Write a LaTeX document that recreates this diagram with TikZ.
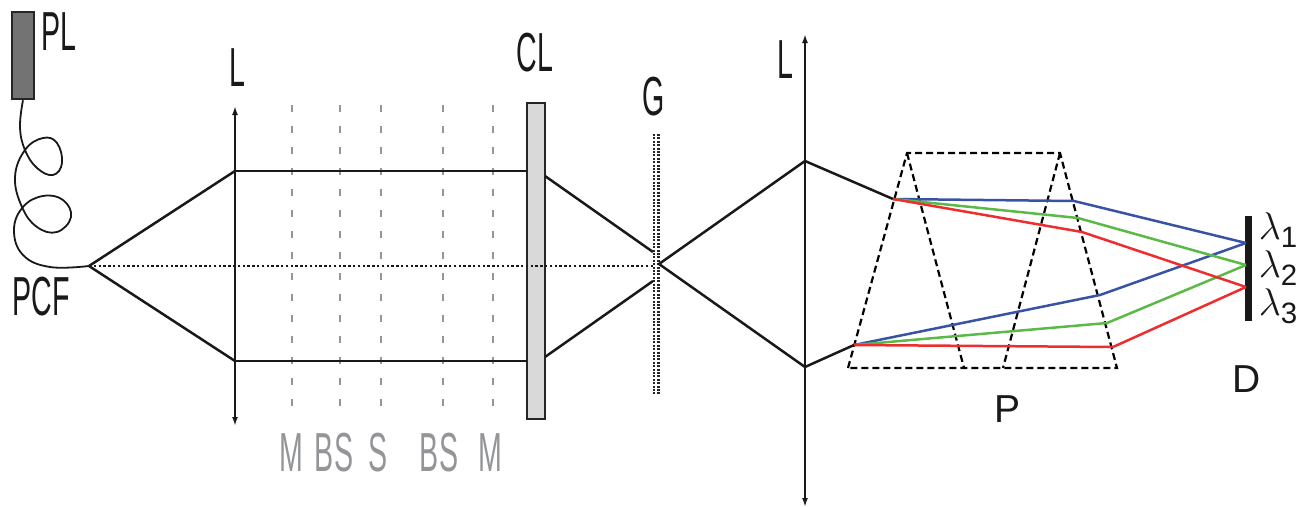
\documentclass[tikz,border=0pt]{standalone}
\usepackage{fontspec}
\setmainfont{Liberation Sans}
\usetikzlibrary{arrows.meta}
\definecolor{rayblue}{HTML}{3953A4}
\definecolor{raygreen}{HTML}{5BB947}
\definecolor{rayred}{HTML}{EE2E2E}
\definecolor{labgray}{HTML}{939598}
\newcommand{\lamsub}[1]{$\lambda$\raisebox{-5.5pt}{\fontsize{19}{19}\selectfont #1}}

\begin{document}
\begin{tikzpicture}[x=1pt, y=-1pt, line width=2.5pt, inner sep=0pt,
  lab/.style={font=\fontsize{55}{55}\selectfont, xscale=.52, transform shape, text=black!90},
  graylab/.style={lab, text=labgray},
  plainlab/.style={font=\fontsize{39}{39}\selectfont, text=black!90},
  lamlab/.style={font=\fontsize{24.88}{30}\selectfont, scale=1.55, transform shape, anchor=base west, text=black!90},
  ray/.style={line width=2.5pt, black!90},
  lens/.style={line width=2.2pt, black!90, {Latex[length=9pt,width=6pt]}-{Latex[length=9pt,width=6pt]}},
  axisline/.style={line width=2.4pt, dash pattern=on 2.4pt off 2.4pt, black!90},
  gratingline/.style={line width=2.2pt, dash pattern=on 2pt off 1.4pt, black!85},
  mirrorline/.style={line width=2.4pt, labgray, dash pattern=on 7pt off 14pt},
  prismline/.style={line width=2.2pt, black, dash pattern=on 7pt off 4pt}]
\useasboundingbox (0,0) rectangle (1306,506);

% source and fibre
\node[draw=black!85, fill=black!55, minimum width=22pt, minimum height=87pt] (pl) at (23,55.5) {};
\coordinate (src) at (89,266);
\draw[line width=1.8pt, black!90] plot[smooth, tension=.7] coordinates {(pl.south) (20,127) (25,150) (37,168) (53,175) (62,163) (57,143) (43,138) (25,150) (15,177) (22,207) (37,227) (57,232) (71,217) (63,200) (43,196) (23,207) (14,230) (23,255) (50,267) (src)};

% lenses and optics
\coordinate (l1top) at (235,106); \coordinate (l1bot) at (235,426);
\coordinate (l2top) at (805,34); \coordinate (l2bot) at (805,507);
\draw[lens] (l1bot) -- (l1top);
\draw[lens] (l2bot) -- (l2top);
\foreach \x in {292,340,381,443,493} {
  \coordinate (mt\x) at (\x,105); \coordinate (mb\x) at (\x,411);
  \draw[mirrorline] (mt\x) -- (mb\x);
}
\node[draw=black!85, fill=black!15, minimum width=18pt, minimum height=316pt] (cl) at (536,261) {};
\coordinate (gat) at (654,134); \coordinate (gab) at (654,394);
\coordinate (gbt) at (658.5,134); \coordinate (gbb) at (658.5,394);
\draw[gratingline] (gat) -- (gab);
\draw[gratingline] (gbt) -- (gbb);

% rays up to the lens
\coordinate (a1) at (235,171); \coordinate (a2) at (235,361);
\coordinate (b1) at (527,171); \coordinate (b2) at (527,361);
\coordinate (c1) at (545,176); \coordinate (c2) at (545,357);
\coordinate (d1) at (653,252); \coordinate (d2) at (653,281);
\coordinate (axisend) at (655,266); \coordinate (foc) at (659,264);
\coordinate (e1) at (805,161); \coordinate (e2) at (805,367);
\coordinate (f1) at (893,199); \coordinate (f2) at (854,345);
\draw[ray] (a1) -- (src) -- (a2);
\draw[ray] (a1) -- (b1); \draw[ray] (a2) -- (b2);
\draw[ray] (c1) -- (d1); \draw[ray] (c2) -- (d2);
\draw[ray] (e1) -- (foc) -- (e2);
\draw[ray] (e1) -- (f1); \draw[ray] (e2) -- (f2);
\draw[axisline] (src) -- (axisend);

% prisms
\coordinate (p1) at (848,368); \coordinate (p2) at (907,153); \coordinate (p3) at (1060,153);
\coordinate (p4) at (1117,368); \coordinate (p5) at (964,368); \coordinate (p6) at (1003,368);
\draw[prismline] (p1) -- (p2) -- (p3) -- (p4) -- cycle;
\draw[prismline] (p2) -- (p5);
\draw[prismline] (p3) -- (p6);

% detector and coloured rays
\node[fill=black!90, minimum width=7pt, minimum height=105pt] (det) at (1248.5,268.5) {};
\coordinate (w1) at (1246,243); \coordinate (w2) at (1246,265); \coordinate (w3) at (1246,287);
\coordinate (u1) at (1074,201); \coordinate (u2) at (1078,218); \coordinate (u3) at (1082,232);
\coordinate (v1) at (1100,295); \coordinate (v2) at (1107,323); \coordinate (v3) at (1113,347);
\draw[rayblue] (f1) -- (u1) -- (w1);
\draw[rayblue] (f2) -- (v1) -- (w1);
\draw[raygreen] (f1) -- (u2) -- (w2);
\draw[raygreen] (f2) -- (v2) -- (w2);
\draw[rayred] (f1) -- (u3) -- (w3);
\draw[rayred] (f2) -- (v3) -- (w3);

% labels
\node[lab] (pllab) at (59,32) {PL};
\node[lab] (pcflab) at (41,297) {PCF};
\node[lab] (l1lab) at (237,68) {L};
\node[lab] (cllab) at (535,53) {CL};
\node[lab] (glab) at (654,97) {G};
\node[lab] (l2lab) at (785,60) {L};
\node[graylab] (m1lab) at (291,453) {M};
\node[graylab] (bs1lab) at (334,453) {BS};
\node[graylab] (slab) at (378,453) {S};
\node[graylab] (bs2lab) at (439,453) {BS};
\node[graylab] (m2lab) at (490,453) {M};
\node[plainlab] (plab) at (1007,409) {P};
\node[plainlab] (dlab) at (1247,379) {D};
\node[lamlab] (lam1) at (1257,239) {\lamsub{1}};
\node[lamlab] (lam2) at (1257,277) {\lamsub{2}};
\node[lamlab] (lam3) at (1257,315) {\lamsub{3}};
\end{tikzpicture}
\end{document}
